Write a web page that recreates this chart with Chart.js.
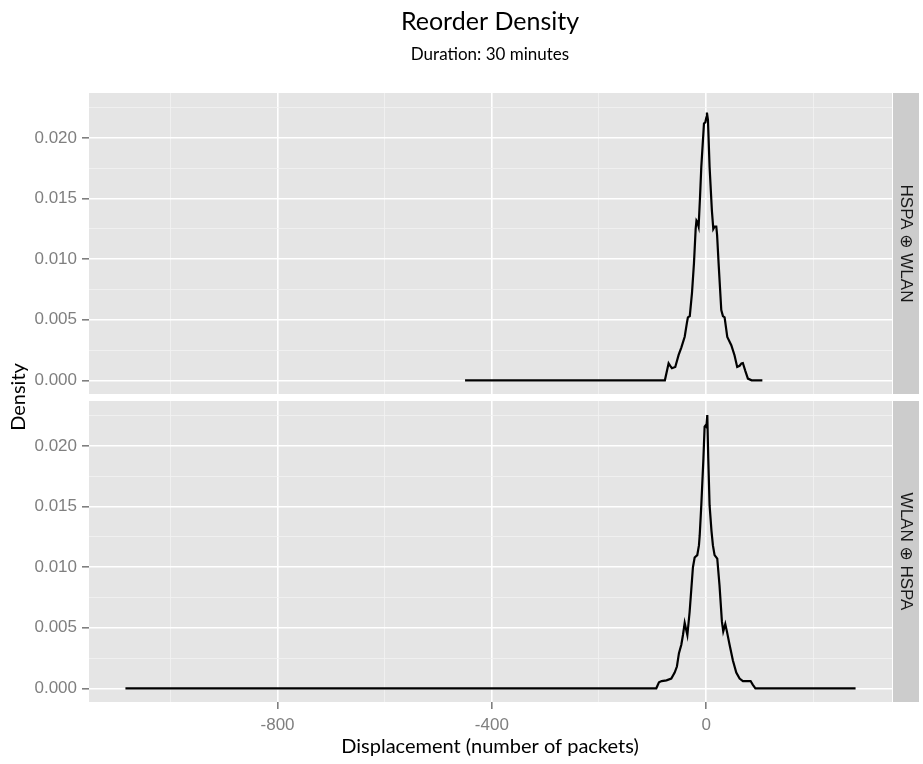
<!DOCTYPE html>
<html>
<head>
<meta charset="utf-8">
<title>Reorder Density</title>
<script src="https://cdn.jsdelivr.net/npm/chart.js@4"></script>
<style>
  body { margin: 0; background: #ffffff; }
  #wrap { position: relative; width: 923px; height: 764px; }
  #wrap canvas { position: absolute; left: 0; top: 0; }
</style>
</head>
<body>
<div id="wrap">
  <canvas id="bottomPanel" width="923" height="764"></canvas>
  <canvas id="topPanel" width="923" height="764"></canvas>
</div>
<script>
// panel labels (facet strips)
const panelNames = ['HSPA \u2295 WLAN', 'WLAN \u2295 HSPA'];

// HSPA + WLAN density curve
const hspaX = [-450, -80, -77, -74, -70, -67, -63.8, -57.6, -51.3, -46.3, -40, -36, -34, -30.5, -26.4, -22.7, -19.5, -18,
  -16.5, -14, -11.5, -9, -4, -1.5, 0.5, 1.5, 3.4, 6.5, 10.8, 13.4, 15.9, 19, 20.5, 23.3, 28.3, 31.4, 34.5, 39.5, 47, 53,
  58, 62.5, 66, 68.6, 73, 78, 85, 105];
const hspaY = [0, 0, 0, 0.0006, 0.0014, 0.0012, 0.001, 0.0011, 0.0021, 0.0027, 0.0036, 0.0047, 0.0052, 0.0053, 0.0072,
  0.00965, 0.0125, 0.0132, 0.0131, 0.0127, 0.015, 0.0176, 0.0212, 0.0213, 0.0217, 0.0221, 0.0215, 0.0176, 0.014, 0.0125,
  0.0127, 0.0127, 0.012, 0.00965, 0.0058, 0.0053, 0.0052, 0.00358, 0.0029, 0.00207, 0.0011, 0.0012, 0.0014, 0.00143,
  0.0008, 0.00014, 0, 0];

// WLAN + HSPA density curve
const wlanX = [-1084, -100, -93, -88, -83, -74, -65, -58.7, -54.5, -50.7, -46.3, -43.2, -40, -35, -30.8, -27.6, -24.6,
  -21.4, -16.5, -13.4, -12, -9, -5, -2.8, -1, 0.5, 2.2, 4, 6.5, 10, 12.7, 15.8, 20.8, 25, 29.5, 32, 35.8, 38.8, 43.8, 50,
  56.3, 62.5, 68.7, 75, 83, 87, 92, 279];
const wlanY = [0, 0, 0, 0.0005, 0.0006, 0.00066, 0.0008, 0.0013, 0.0018, 0.0029, 0.0036, 0.0044, 0.0054, 0.0044, 0.0063,
  0.0082, 0.01, 0.0108, 0.011, 0.0118, 0.0126, 0.0151, 0.019, 0.0216, 0.0217, 0.0216, 0.02256, 0.019, 0.0151, 0.013,
  0.0118, 0.011, 0.0107, 0.0085, 0.0055, 0.0047, 0.0053, 0.0047, 0.0036, 0.0023, 0.0013, 0.0008, 0.0006, 0.0006, 0.0006,
  0.0003, 0, 0];

// axis breaks
const xMajorTicks = [-800, -400, 0];
const xMinorTicks = [-1000, -600, -200, 200];
const yMajorTicks = [0, 0.005, 0.01, 0.015, 0.02];
const yMinorTicks = [0.0025, 0.0075, 0.0125, 0.0175, 0.0225];

const xRange = [-1152, 347];
const yRange = [-0.00113, 0.02372];

const TICK_FONT = { family: "'Liberation Sans', Arial, sans-serif", size: 17 };
const TICK_GREY = '#7f7f7f';

function toPoints(xs, ys) {
    let pts = [];
    xs.forEach((x, i) => pts.push({ x: x, y: ys[i] }));
    return pts;
}

function isMajor(list, value) {
    return list.some(v => Math.abs(v - value) < 1e-9);
}

const panelBackground = {
    id: 'panelBackground',
    beforeDraw(chart) {
        const a = chart.chartArea;
        const ctx = chart.ctx;
        ctx.save();
        ctx.fillStyle = '#e5e5e5';
        ctx.fillRect(a.left, a.top, a.right - a.left, a.bottom - a.top);
        // facet strip on the right
        ctx.fillStyle = '#cccccc';
        ctx.fillRect(a.right + 1, a.top, 26, a.bottom - a.top);
        ctx.translate(a.right + 14, (a.top + a.bottom) / 2);
        ctx.rotate(Math.PI / 2);
        ctx.fillStyle = '#1a1a1a';
        ctx.font = "17px 'Liberation Sans', 'DejaVu Sans', sans-serif";
        ctx.textAlign = 'center';
        ctx.textBaseline = 'middle';
        ctx.fillText(chart.options.plugins.panelBackground.label, 0, 0);
        ctx.restore();
    }
};

const pageText = {
    id: 'pageText',
    afterDraw(chart) {
        const ctx = chart.ctx;
        ctx.save();
        ctx.fillStyle = '#000000';
        ctx.textAlign = 'center';
        ctx.textBaseline = 'middle';
        ctx.font = "25px Lato, 'DejaVu Sans', sans-serif";
        ctx.fillText('Reorder Density', 490, 22);
        ctx.font = "17px Lato, 'DejaVu Sans', sans-serif";
        ctx.fillText('Duration: 30 minutes', 490, 55);
        ctx.font = "20px Lato, 'DejaVu Sans', sans-serif";
        ctx.fillText('Displacement (number of packets)', 490, 747);
        ctx.translate(19, 397);
        ctx.rotate(-Math.PI / 2);
        ctx.fillText('Density', 0, 0);
        ctx.restore();
    }
};

function generatePanel(elementId, label, xs, ys, top, bottom, showXLabels) {
    const data = {
        datasets: [{
            label: label,
            data: toPoints(xs, ys),
            borderColor: '#000000',
            borderWidth: 2.2,
            pointRadius: 0,
            tension: 0,
            fill: false
        }]
    };

    const config = {
        type: 'line',
        data: data,
        options: {
            responsive: false,
            animation: false,
            devicePixelRatio: 1,
            layout: {
                padding: { top: top, right: 31, bottom: showXLabels ? 0 : 764 - bottom, left: 0 }
            },
            plugins: {
                legend: { display: false },
                tooltip: { enabled: false },
                panelBackground: { label: label }
            },
            scales: {
                x: {
                    type: 'linear',
                    min: xRange[0],
                    max: xRange[1],
                    afterBuildTicks: scale => {
                        scale.ticks = xMajorTicks.concat(xMinorTicks).sort((a, b) => a - b).map(v => ({ value: v }));
                    },
                    afterFit: scale => { scale.height = showXLabels ? 764 - bottom : 0; },
                    border: { display: false },
                    grid: {
                        color: ctx => isMajor(xMajorTicks, ctx.tick.value) ? '#ffffff' : '#f2f2f2',
                        lineWidth: ctx => isMajor(xMajorTicks, ctx.tick.value) ? 1.6 : 0.8,
                        drawTicks: showXLabels,
                        tickLength: 7,
                        tickColor: ctx => isMajor(xMajorTicks, ctx.tick.value) ? TICK_GREY : 'rgba(0,0,0,0)'
                    },
                    ticks: {
                        display: showXLabels,
                        autoSkip: false,
                        maxRotation: 0,
                        padding: 6,
                        color: TICK_GREY,
                        font: TICK_FONT,
                        callback: v => isMajor(xMajorTicks, v) ? String(v) : ''
                    }
                },
                y: {
                    type: 'linear',
                    min: yRange[0],
                    max: yRange[1],
                    afterBuildTicks: scale => {
                        scale.ticks = yMajorTicks.concat(yMinorTicks).sort((a, b) => a - b).map(v => ({ value: v }));
                    },
                    afterFit: scale => { scale.width = 89; },
                    border: { display: false },
                    grid: {
                        color: ctx => isMajor(yMajorTicks, ctx.tick.value) ? '#ffffff' : '#f2f2f2',
                        lineWidth: ctx => isMajor(yMajorTicks, ctx.tick.value) ? 1.6 : 0.8,
                        tickLength: 7,
                        tickColor: ctx => isMajor(yMajorTicks, ctx.tick.value) ? TICK_GREY : 'rgba(0,0,0,0)'
                    },
                    ticks: {
                        autoSkip: false,
                        padding: 5,
                        color: TICK_GREY,
                        font: TICK_FONT,
                        callback: v => isMajor(yMajorTicks, v) ? v.toFixed(3) : ''
                    }
                }
            }
        },
        plugins: showXLabels ? [panelBackground, pageText] : [panelBackground]
    };

    return new Chart(document.getElementById(elementId), config);
}

generatePanel('topPanel', panelNames[0], hspaX, hspaY, 93, 394, false);
generatePanel('bottomPanel', panelNames[1], wlanX, wlanY, 401, 702, true);
</script>
</body>
</html>
